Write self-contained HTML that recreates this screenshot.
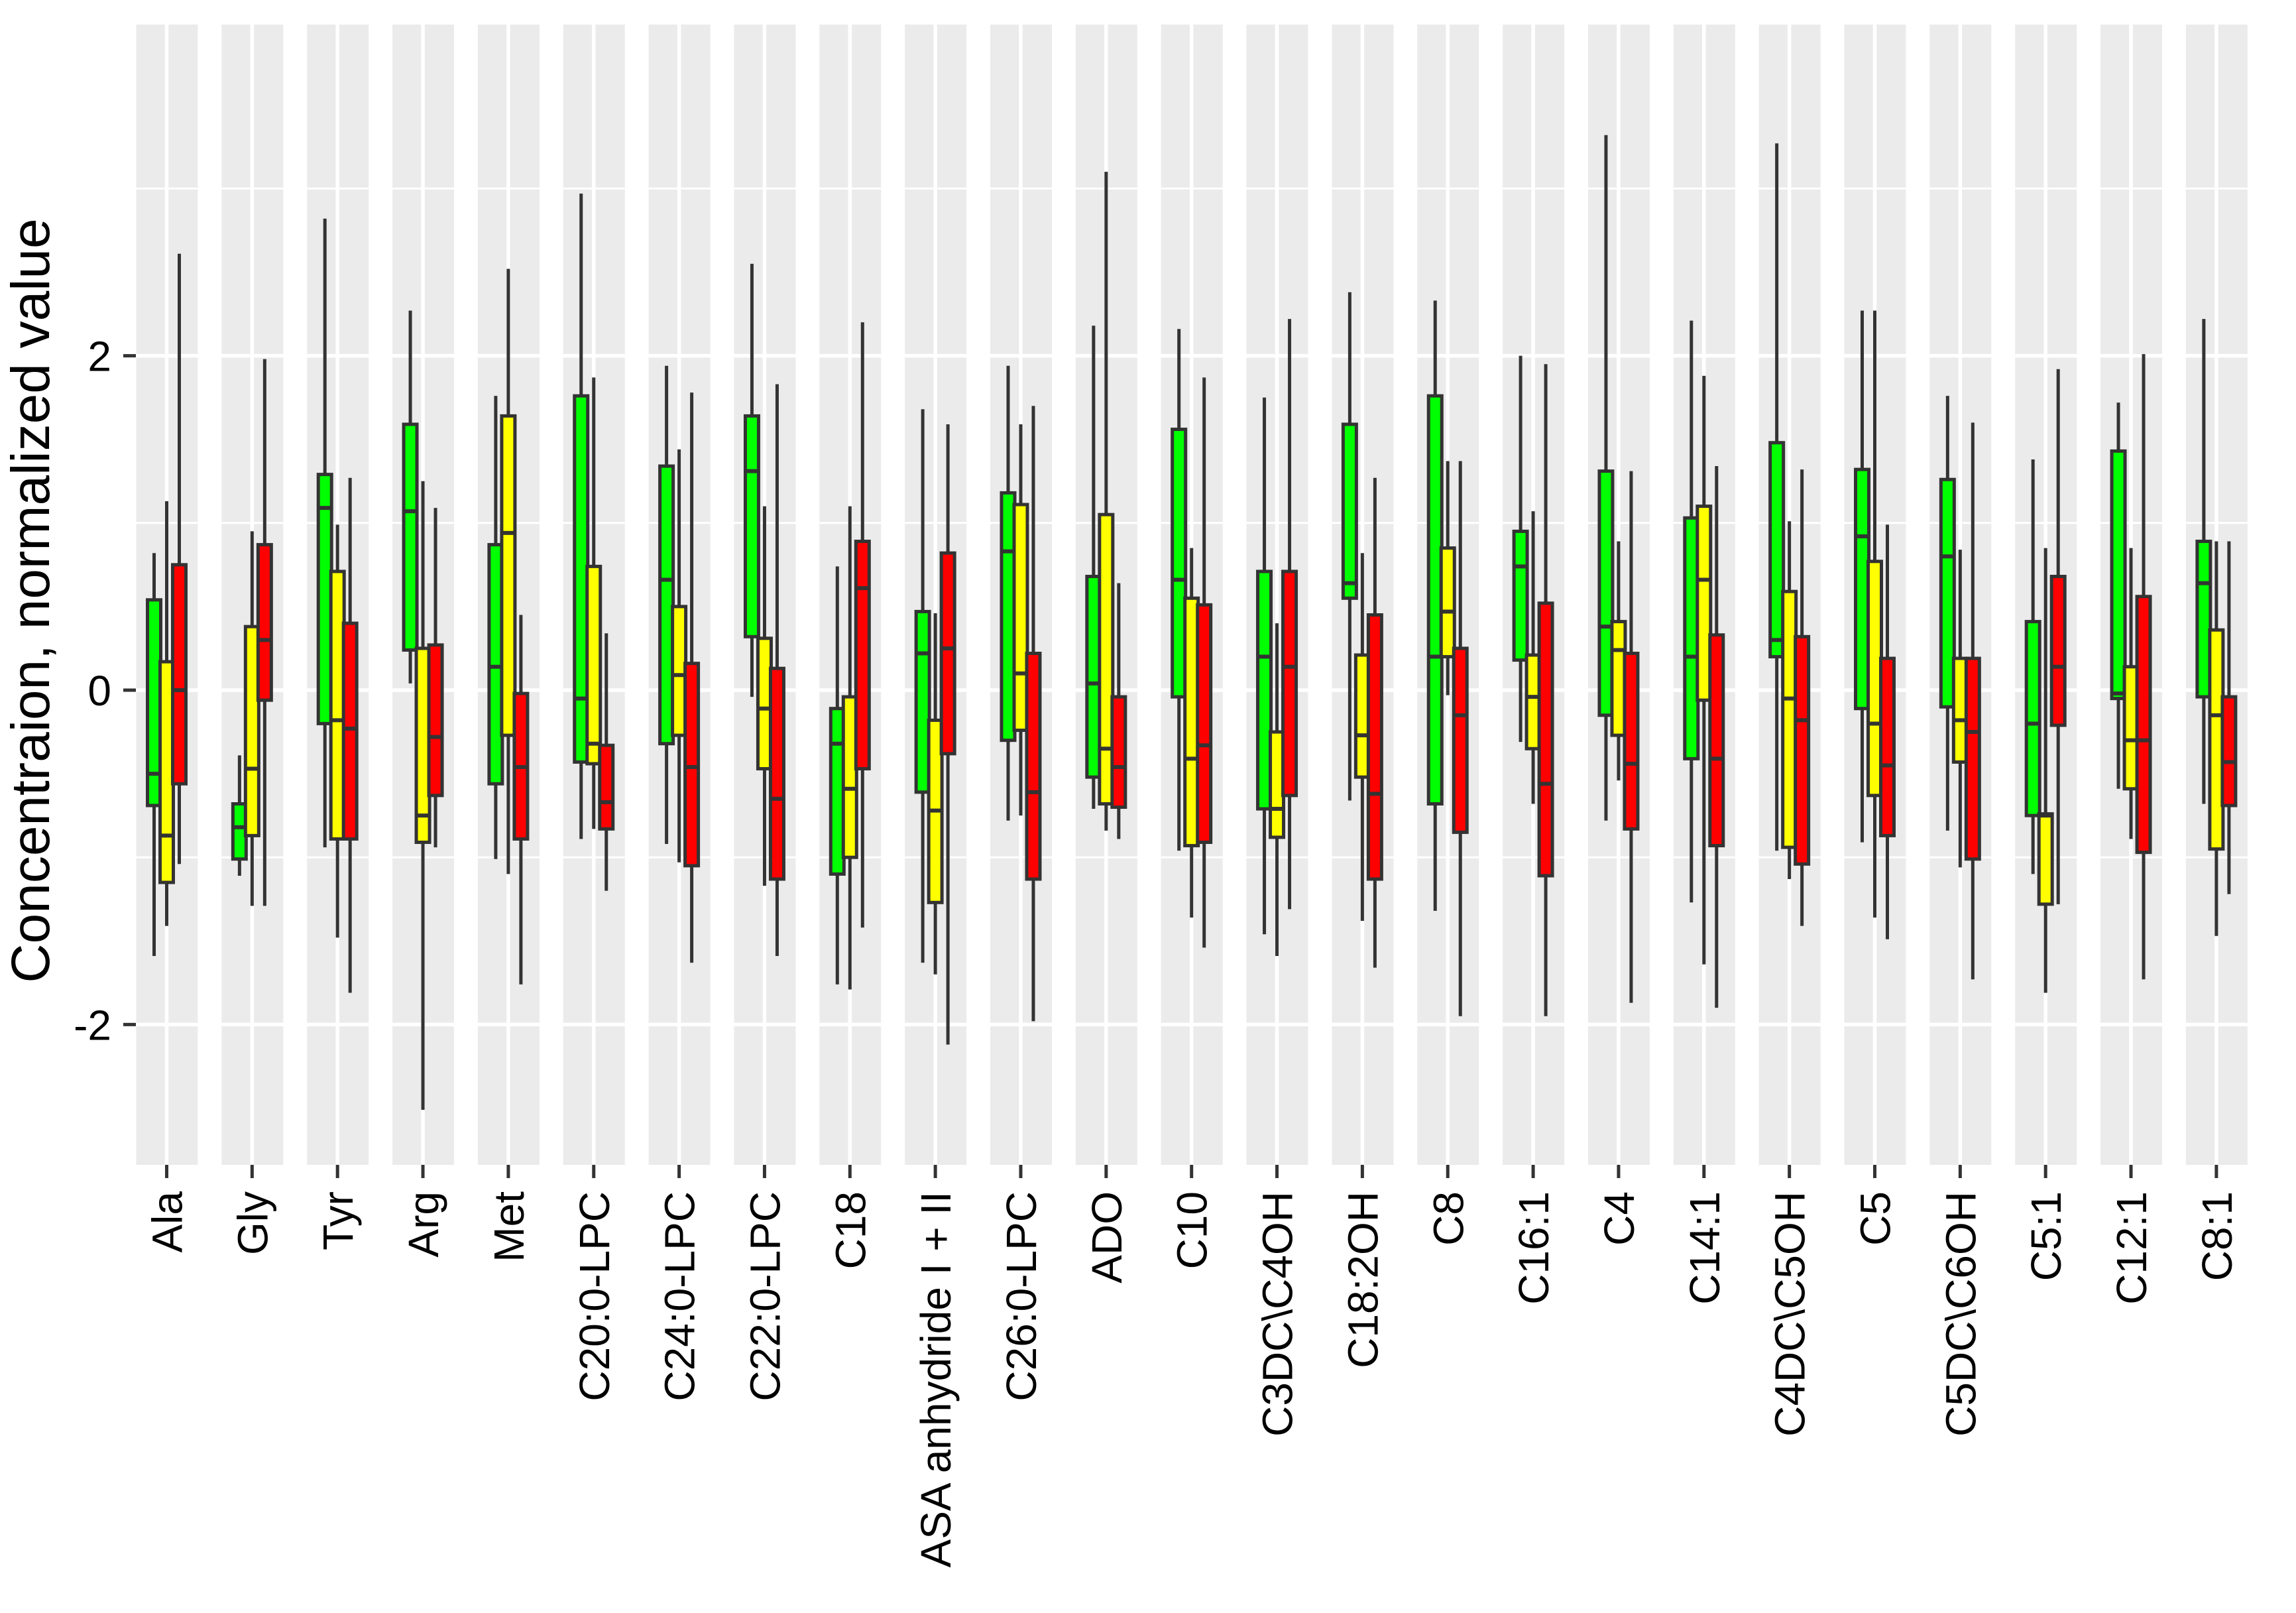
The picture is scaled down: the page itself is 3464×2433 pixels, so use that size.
<!DOCTYPE html>
<html><head><meta charset="utf-8"><style>
html,body{margin:0;padding:0;background:#fff;}
svg{display:block;font-family:"Liberation Sans",Arial,sans-serif;}
</style></head>
<body>
<svg id="chart" width="3464" height="2433" viewBox="0 0 3464 2433" xmlns="http://www.w3.org/2000/svg">
<text x="0" y="0" transform="translate(74,906) rotate(-90)" text-anchor="middle" font-size="82" fill="#000">Concentraion, normalized value</text>
<g id="panels"></g>
</svg>
<script>
const categories = ["Ala","Gly","Tyr","Arg","Met","C20:0-LPC","C24:0-LPC","C22:0-LPC","C18","ASA anhydride I + II","C26:0-LPC","ADO","C10","C3DC\\C4OH","C18:2OH","C8","C16:1","C4","C14:1","C4DC\\C5OH","C5","C5DC\\C6OH","C5:1","C12:1","C8:1"];
const groups = ["green","yellow","red"];
// each: [whiskerLow, q1, median, q3, whiskerHigh]
const greenStats = [
[-1.59,-0.69,-0.5,0.54,0.82],[-1.11,-1.01,-0.82,-0.68,-0.39],[-0.94,-0.2,1.09,1.29,2.82],[0.04,0.24,1.07,1.59,2.27],[-1.01,-0.56,0.14,0.87,1.76],
[-0.89,-0.43,-0.05,1.76,2.97],[-0.92,-0.32,0.66,1.34,1.94],[-0.04,0.32,1.31,1.64,2.55],[-1.76,-1.1,-0.32,-0.11,0.74],[-1.63,-0.61,0.22,0.47,1.68],
[-0.78,-0.3,0.83,1.18,1.94],[-0.71,-0.52,0.04,0.68,2.18],[-0.96,-0.04,0.66,1.56,2.16],[-1.46,-0.71,0.2,0.71,1.75],[-0.66,0.55,0.64,1.59,2.38],
[-1.32,-0.68,0.2,1.76,2.33],[-0.31,0.18,0.74,0.95,2.0],[-0.78,-0.15,0.38,1.31,3.32],[-1.27,-0.41,0.2,1.03,2.21],[-0.96,0.2,0.3,1.48,3.27],
[-0.91,-0.11,0.92,1.32,2.27],[-0.84,-0.1,0.8,1.26,1.76],[-1.1,-0.75,-0.2,0.41,1.38],[-0.59,-0.05,-0.02,1.43,1.72],[-0.68,-0.04,0.64,0.89,2.22]];
const yellowStats = [
[-1.41,-1.15,-0.87,0.17,1.13],[-1.29,-0.87,-0.47,0.38,0.95],[-1.48,-0.89,-0.18,0.71,0.99],[-2.51,-0.91,-0.75,0.25,1.25],[-1.1,-0.27,0.94,1.64,2.52],
[-0.83,-0.44,-0.32,0.74,1.87],[-1.03,-0.27,0.09,0.5,1.44],[-1.17,-0.47,-0.11,0.31,1.1],[-1.79,-1.0,-0.59,-0.04,1.1],[-1.7,-1.27,-0.72,-0.18,0.46],
[-0.75,-0.24,0.1,1.11,1.59],[-0.84,-0.68,-0.35,1.05,3.1],[-1.36,-0.93,-0.41,0.55,0.85],[-1.59,-0.88,-0.71,-0.25,0.4],[-1.38,-0.52,-0.27,0.21,0.82],
[-0.03,0.2,0.47,0.85,1.37],[-0.68,-0.35,-0.04,0.21,1.07],[-0.54,-0.27,0.24,0.41,0.89],[-1.64,-0.06,0.66,1.1,1.88],[-1.13,-0.94,-0.05,0.59,1.01],
[-1.36,-0.63,-0.2,0.77,2.27],[-1.06,-0.43,-0.18,0.19,0.84],[-1.81,-1.28,-0.75,-0.74,0.85],[-0.89,-0.59,-0.3,0.14,0.85],[-1.47,-0.95,-0.15,0.36,0.89]];
const redStats = [
[-1.04,-0.56,0.0,0.75,2.61],[-1.29,-0.06,0.3,0.87,1.98],[-1.81,-0.89,-0.23,0.4,1.27],[-0.94,-0.63,-0.28,0.27,1.09],[-1.76,-0.89,-0.46,-0.02,0.45],
[-1.2,-0.83,-0.67,-0.33,0.34],[-1.63,-1.05,-0.46,0.16,1.78],[-1.59,-1.13,-0.65,0.13,1.83],[-1.42,-0.47,0.61,0.89,2.2],[-2.12,-0.38,0.25,0.82,1.59],
[-1.98,-1.13,-0.61,0.22,1.7],[-0.89,-0.7,-0.46,-0.04,0.64],[-1.54,-0.91,-0.33,0.51,1.87],[-1.31,-0.63,0.14,0.71,2.22],[-1.66,-1.13,-0.62,0.45,1.27],
[-1.95,-0.85,-0.15,0.25,1.37],[-1.95,-1.11,-0.56,0.52,1.95],[-1.87,-0.83,-0.44,0.22,1.31],[-1.9,-0.93,-0.41,0.33,1.34],[-1.41,-1.04,-0.18,0.32,1.32],
[-1.49,-0.87,-0.45,0.19,0.99],[-1.73,-1.01,-0.25,0.19,1.6],[-1.28,-0.21,0.14,0.68,1.92],[-1.73,-0.97,-0.3,0.56,2.01],[-1.22,-0.69,-0.43,-0.04,0.89]];
const yTicks = [-2,0,2];
const yMinor = [-1,1,3];

const NS="http://www.w3.org/2000/svg";
const g=document.getElementById('panels');
const Y0=1041, UNIT=252.2, PTOP=37, PBOT=1757;
function yScale(v){return Y0 - v*UNIT;}
function xCenter(i){return 251.5 + i*128.85;}
function mk(tag,attrs,parent){const e=document.createElementNS(NS,tag);for(const k in attrs)e.setAttribute(k,attrs[k]);(parent||g).appendChild(e);return e;}
const fills={green:"#00FF00",yellow:"#FFFF00",red:"#FF0000"};
const stats={green:greenStats,yellow:yellowStats,red:redStats};
const offs={green:-19,yellow:0,red:19};

categories.forEach((cat,i)=>{
  const cx=xCenter(i);
  const pg=mk('g',{});
  
  
  const bg=mk('rect',{x:cx-46,y:PTOP,width:93,height:PBOT-PTOP,fill:"#EBEBEB"},pg);
  
  
  yMinor.forEach(v=>{const l=mk('line',{x1:cx-46,x2:cx+47,y1:yScale(v),y2:yScale(v),stroke:"#fff","stroke-width":3},pg);
    
    });
  yTicks.forEach(v=>{const l=mk('line',{x1:cx-46,x2:cx+47,y1:yScale(v),y2:yScale(v),stroke:"#fff","stroke-width":5.5},pg);
    
    });
  const vl=mk('line',{x1:cx,x2:cx,y1:PTOP,y2:PBOT,stroke:"#fff","stroke-width":5.5},pg);
  
  
  groups.forEach(gr=>{
    const s=stats[gr][i]; const bx=cx+offs[gr];
    const bgp=mk('g',{},pg);
    
    
    mk('line',{x1:bx,x2:bx,y1:yScale(s[4]),y2:yScale(s[0]),stroke:"#333","stroke-width":5},bgp);
    mk('rect',{x:bx-10,y:yScale(s[3]),width:20,height:yScale(s[1])-yScale(s[3]),fill:fills[gr],stroke:"#333","stroke-width":5},bgp);
    mk('line',{x1:bx-10,x2:bx+10,y1:yScale(s[2]),y2:yScale(s[2]),stroke:"#333","stroke-width":6},bgp);
  });
  const tk=mk('line',{x1:cx,x2:cx,y1:PBOT,y2:PBOT+20,stroke:"#333","stroke-width":5},pg);
  
  
  const t=mk('text',{x:0,y:0,transform:`translate(${cx+23},1797) rotate(-90)`,"text-anchor":"end","font-size":64,fill:"#000"},pg);
  
  
  t.textContent=cat;
});
yTicks.forEach(v=>{
  const l=mk('line',{x1:186,x2:205,y1:yScale(v),y2:yScale(v),stroke:"#333","stroke-width":5});
  
  
  const t=mk('text',{x:168,y:yScale(v)+23,"text-anchor":"end","font-size":64,fill:"#000"});
  
  
  t.textContent=(v<0?'-':'')+Math.abs(v);
});
</script>
</body></html>
